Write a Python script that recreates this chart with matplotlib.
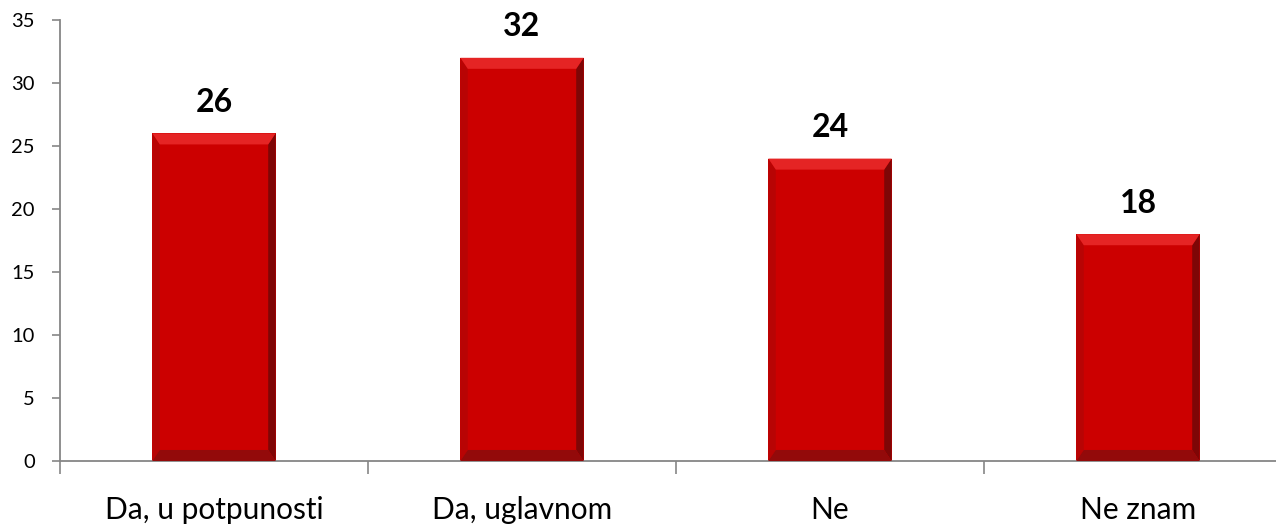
import matplotlib
matplotlib.use("Agg")
import matplotlib.pyplot as plt
import numpy as np
from matplotlib.patches import Polygon

categories = ["Da, u potpunosti", "Da, uglavnom", "Ne", "Ne znam"]
values = [26, 32, 24, 18]
yticks = [0, 5, 10, 15, 20, 25, 30, 35]

plt.rcParams['font.family'] = ['Lato', 'DejaVu Sans']

fig = plt.figure(figsize=(12.76, 5.31), dpi=100)
ax = fig.add_axes([60/1276, 70/531, 1232/1276, 441/531])

x = np.arange(len(categories))
width = 0.4
bars = ax.bar(x, values, width=width, color="#CC0000", edgecolor="none", zorder=2)

ax.set_xlim(-0.5, len(categories) - 0.5)
ax.set_ylim(0, 35)

# bevel effect derived from bar geometry
for b in bars:
    x0, y0 = b.get_x(), b.get_y()
    w, h = b.get_width(), b.get_height()
    bx = w * 0.06
    by = 35 * 0.025
    x1, y1 = x0 + w, y0 + h
    top = Polygon([(x0, y1), (x1, y1), (x1 - bx, y1 - by), (x0 + bx, y1 - by)],
                  closed=True, color="#E52424", zorder=3, lw=0)
    right = Polygon([(x1, y1), (x1, y0), (x1 - bx, y0 + by), (x1 - bx, y1 - by)],
                    closed=True, color="#7E0606", zorder=3, lw=0)
    bottom = Polygon([(x0, y0), (x1, y0), (x1 - bx, y0 + by), (x0 + bx, y0 + by)],
                     closed=True, color="#930A0A", zorder=3, lw=0)
    left = Polygon([(x0, y0), (x0, y1), (x0 + bx, y1 - by), (x0 + bx, y0 + by)],
                   closed=True, color="#B80404", zorder=3, lw=0)
    for p in (left, right, bottom, top):
        ax.add_patch(p)
    ax.annotate(f"{b.get_height():g}", (x0 + w / 2, y1), xytext=(0, 12),
                textcoords="offset points", ha="center", va="bottom",
                fontsize=23, fontweight="bold", color="black")

for s in ("top", "right"):
    ax.spines[s].set_visible(False)
for s in ("left", "bottom"):
    ax.spines[s].set_color("#868686")
    ax.spines[s].set_linewidth(1.3)

ax.set_yticks(yticks)
ax.tick_params(axis="y", direction="out", length=6, color="#868686", width=1.2,
               labelsize=14.5, pad=12)
ax.set_xticks(x)
ax.set_xticklabels(categories)
ax.tick_params(axis="x", which="major", length=0, labelsize=21.5, pad=25)
ax.set_xticks(np.arange(-0.5, len(categories), 1.0), minor=True)
ax.tick_params(axis="x", which="minor", direction="out", length=9,
               color="#868686", width=1.2)

fig.savefig("out.png", dpi=100)
